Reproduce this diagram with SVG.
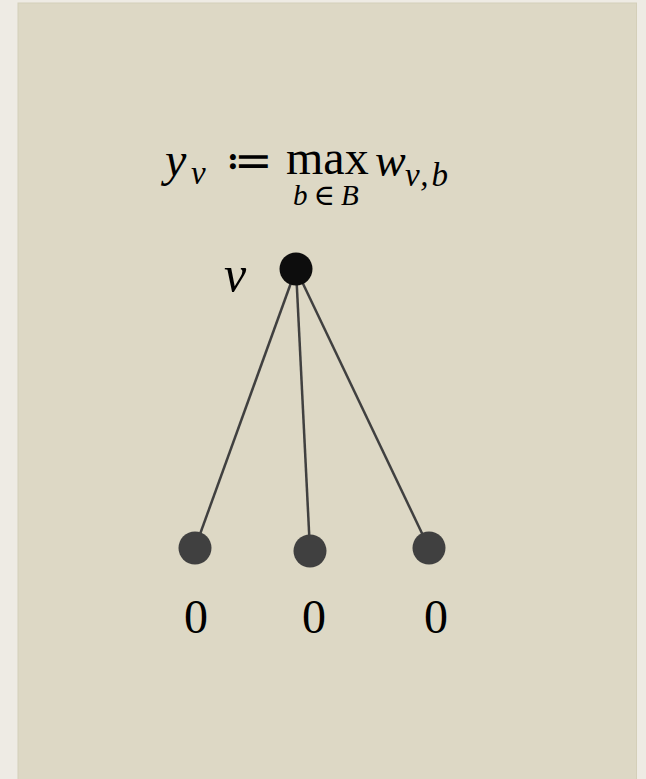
<svg xmlns="http://www.w3.org/2000/svg" width="646" height="779" viewBox="0 0 646 779">
<style>
.m{font-family:"Liberation Serif","DejaVu Serif",serif;fill:#000}
.i{font-style:italic}
.edge{stroke:#404040;stroke-width:2.5;fill:none}
.leaf{fill:#404040}
</style>
<rect x="0" y="0" width="646" height="779" fill="#eeebe4"/>
<rect x="18" y="3" width="618.5" height="780" fill="#ddd8c5" stroke="#d4cfb9" stroke-width="1"/>
<g id="formula">
<text class="m i" x="165" y="176" font-size="48">y</text>
<text class="m i" x="191" y="184" font-size="33">v</text>
<text class="m" x="225" y="176" font-size="46">≔</text>
<text class="m" x="286" y="174" font-size="48">max</text>
<text class="m i" x="293" y="205" font-size="29" letter-spacing="6">b∈B</text>
<text class="m i" x="375" y="176" font-size="46">w</text>
<text class="m i" x="405" y="186" font-size="33" letter-spacing="3">v,b</text>
</g>
<g id="connectors">
<line class="edge" x1="296" y1="269" x2="195" y2="548"/>
<line class="edge" x1="296" y1="269" x2="310" y2="551"/>
<line class="edge" x1="296" y1="269" x2="429" y2="548"/>
</g>
<g id="node-v">
<circle cx="296" cy="269" r="16.5" fill="#0d0d0d"/>
<text class="m i" x="224" y="291" font-size="50">v</text>
</g>
<g id="leaf-1">
<circle class="leaf" cx="195" cy="548" r="16.5"/>
<text class="m" x="196" y="633" font-size="48" text-anchor="middle">0</text>
</g>
<g id="leaf-2">
<circle class="leaf" cx="310" cy="551" r="16.5"/>
<text class="m" x="314" y="633" font-size="48" text-anchor="middle">0</text>
</g>
<g id="leaf-3">
<circle class="leaf" cx="429" cy="548" r="16.5"/>
<text class="m" x="436" y="633" font-size="48" text-anchor="middle">0</text>
</g>
</svg>
